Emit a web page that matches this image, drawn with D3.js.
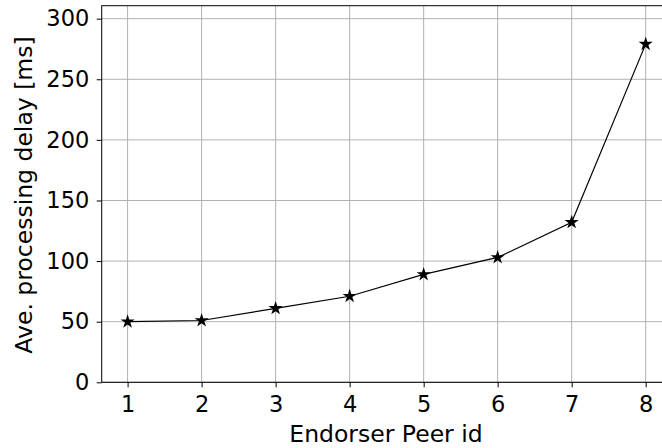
<!DOCTYPE html>
<html>
<head>
<meta charset="utf-8">
<script src="https://cdn.jsdelivr.net/npm/d3@7"></script>
<style>
  html, body { margin: 0; padding: 0; background: #fff; }
  svg { display: block; font-family: "DejaVu Sans", sans-serif; }
</style>
</head>
<body>
<svg id="chart" width="662" height="448"></svg>
<script>
// Average processing delay per endorser peer
const peerIds = [1, 2, 3, 4, 5, 6, 7, 8];
const delayMs = [50, 51, 61, 71, 89, 103, 132, 279];
const yTicks = [0, 50, 100, 150, 200, 250, 300];

const plot = { left: 101.7, top: 5.7, right: 671.6, bottom: 382.3 };

const svg = d3.select("#chart");

const x = d3.scaleLinear().domain([0.65, 8.35]).range([plot.left, plot.right]);
const y = d3.scaleLinear().domain([0, 310.7]).range([plot.bottom, plot.top]);

// grid
const grid = svg.append("g");
grid.selectAll(".gx").data(peerIds).join("line")
  .attr("x1", d => x(d)).attr("x2", d => x(d))
  .attr("y1", plot.top).attr("y2", plot.bottom)
  .attr("stroke", "#b0b0b0").attr("stroke-width", 1);
grid.selectAll(".gy").data(yTicks).join("line")
  .attr("x1", plot.left).attr("x2", plot.right)
  .attr("y1", d => y(d)).attr("y2", d => y(d))
  .attr("stroke", "#b0b0b0").attr("stroke-width", 1);

// axes
const xAxis = d3.axisBottom(x).tickValues(peerIds).tickFormat(d3.format("d"))
  .tickSizeInner(5).tickSizeOuter(0).tickPadding(9);
const yAxis = d3.axisLeft(y).tickValues(yTicks).tickFormat(d3.format("d"))
  .tickSizeInner(5).tickSizeOuter(0).tickPadding(7.4);

const gx = svg.append("g").attr("transform", `translate(0,${plot.bottom})`).call(xAxis);
const gy = svg.append("g").attr("transform", `translate(${plot.left},0)`).call(yAxis);
[gx, gy].forEach(g => {
  g.attr("font-size", null).attr("font-family", null);
  g.select(".domain").remove();
  g.selectAll(".tick line").attr("stroke", "#000").attr("stroke-width", 1);
  g.selectAll(".tick text").attr("fill", "#000").style("font-size", "22.5px");
});

// frame
svg.append("rect")
  .attr("x", plot.left).attr("y", plot.top)
  .attr("width", plot.right - plot.left).attr("height", plot.bottom - plot.top)
  .attr("fill", "none").attr("stroke", "#000").attr("stroke-width", 1);

// series
const pts = peerIds.map((p, i) => [p, delayMs[i]]);
svg.append("path").datum(pts)
  .attr("fill", "none").attr("stroke", "#000").attr("stroke-width", 1.2)
  .attr("d", d3.line().x(d => x(d[0])).y(d => y(d[1])));

const star = d3.symbol().type(d3.symbolStar).size(62);
svg.selectAll(".pt").data(pts).join("path")
  .attr("transform", d => `translate(${x(d[0])},${y(d[1])})`)
  .attr("d", star).attr("fill", "#000");

// axis titles
svg.append("text")
  .attr("x", 386).attr("y", 442)
  .attr("text-anchor", "middle").style("font-size", "23.5px")
  .text("Endorser Peer id");
svg.append("text")
  .attr("transform", `translate(32,195) rotate(-90)`)
  .attr("text-anchor", "middle").style("font-size", "23.5px")
  .text("Ave. processing delay [ms]");
</script>
</body>
</html>
